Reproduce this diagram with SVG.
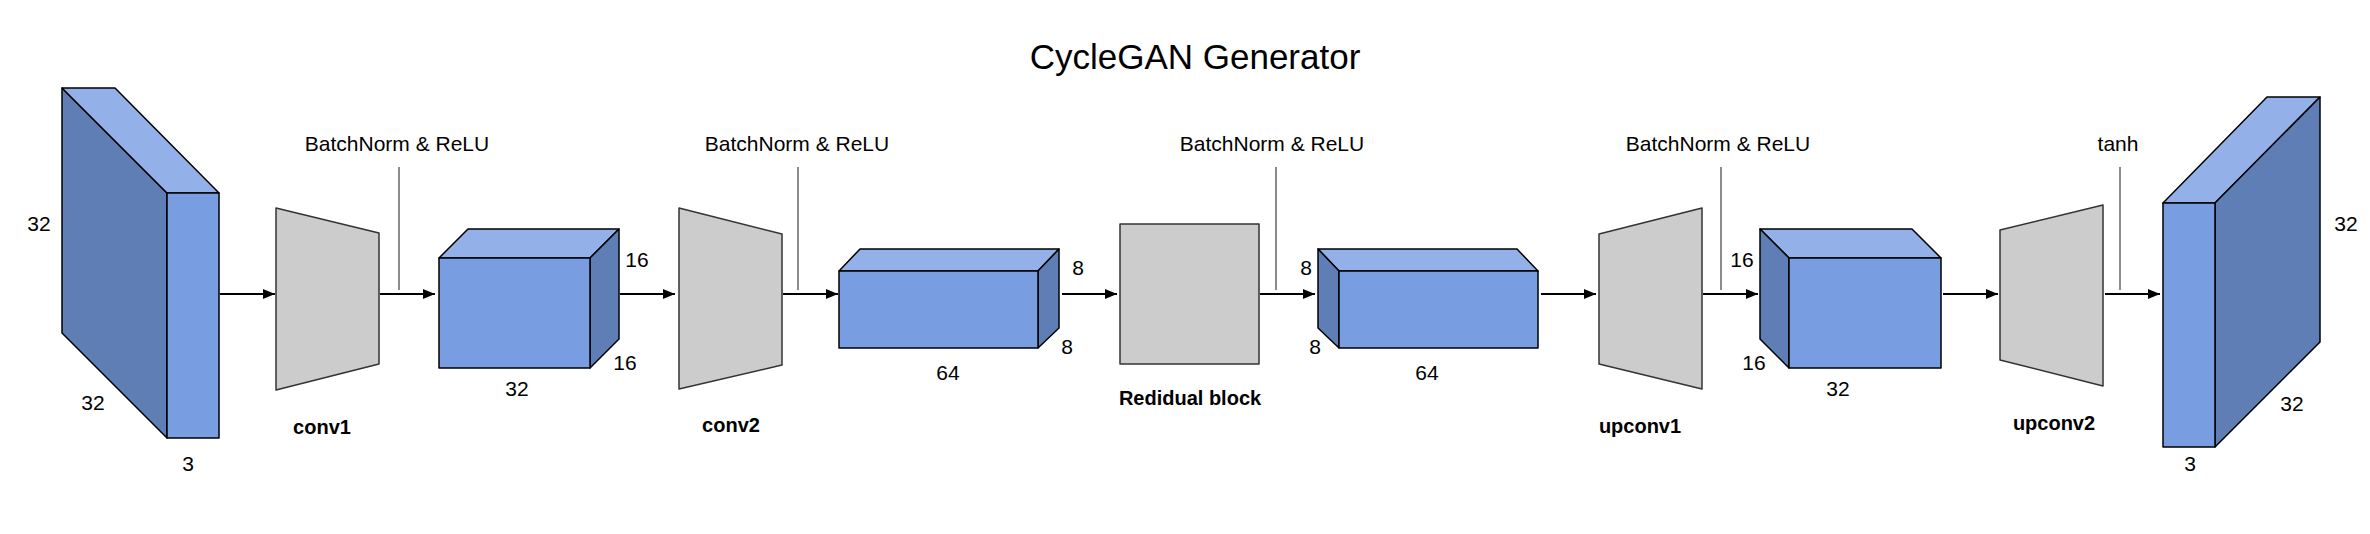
<svg xmlns="http://www.w3.org/2000/svg" width="2370" height="534" viewBox="0 0 2370 534">
<style>
text{font-family:"Liberation Sans",Arial,sans-serif;fill:#000}
.t{font-size:21px;text-anchor:middle;dominant-baseline:central}
.b{font-size:20px;font-weight:bold;text-anchor:middle;dominant-baseline:central}
.bn{font-size:21px;text-anchor:middle}
.front{fill:#789DE1;stroke:#000;stroke-width:1.5;stroke-linejoin:round}
.top{fill:#93B1E8;stroke:#000;stroke-width:1.5;stroke-linejoin:round}
.side{fill:#607EB6;stroke:#000;stroke-width:1.5;stroke-linejoin:round}
.op{fill:#CCCCCC;stroke:#333;stroke-width:1.5;stroke-linejoin:round}
.edge{stroke:#000;stroke-width:2;fill:none}
.tick{stroke:#666;stroke-width:1.5;fill:none}
</style>
<defs>
<marker id="ah" markerWidth="12" markerHeight="10" refX="12" refY="5" orient="auto" markerUnits="userSpaceOnUse">
<path d="M0,0 L12,5 L0,10 Z" fill="#000"/>
</marker>
</defs>
<rect width="2370" height="534" fill="#fff"/>
<text x="1195" y="69" style="font-size:35px;text-anchor:middle">CycleGAN Generator</text>

<g id="input">
<polygon class="side" points="62,88 167,193 167,438 62,333"/>
<polygon class="top" points="62,88 115,88 219,193 167,193"/>
<rect class="front" x="167" y="193" width="52" height="245"/>
<text class="t" x="39" y="223">32</text>
<text class="t" x="93" y="402">32</text>
<text class="t" x="188" y="463">3</text>
</g>

<g id="conv1">
<polygon class="op" points="276,208 379,233 379,364 276,390"/>
<text class="b" x="322" y="427">conv1</text>
</g>

<g id="feat1">
<polygon class="top" points="439,258 468,229 619,229 590,258"/>
<polygon class="side" points="590,258 619,229 619,339 590,368"/>
<rect class="front" x="439" y="258" width="151" height="110"/>
<text class="t" x="637" y="259">16</text>
<text class="t" x="625" y="362">16</text>
<text class="t" x="517" y="388">32</text>
</g>

<g id="conv2">
<polygon class="op" points="679,208 782,234 782,365 679,389"/>
<text class="b" x="731" y="425">conv2</text>
</g>

<g id="feat2">
<polygon class="top" points="839,271 860,249 1059,249 1038,271"/>
<polygon class="side" points="1038,271 1059,249 1059,328 1038,348"/>
<rect class="front" x="839" y="271" width="199" height="77"/>
<text class="t" x="1078" y="267">8</text>
<text class="t" x="1067" y="346">8</text>
<text class="t" x="948" y="372">64</text>
</g>

<g id="residual">
<rect class="op" x="1120" y="224" width="139" height="140"/>
<text class="b" x="1190" y="398">Redidual block</text>
</g>

<g id="feat3">
<polygon class="top" points="1318,249 1517,249 1538,271 1339,271"/>
<polygon class="side" points="1318,249 1339,271 1339,348 1318,328"/>
<rect class="front" x="1339" y="271" width="199" height="77"/>
<text class="t" x="1306" y="267">8</text>
<text class="t" x="1315" y="346">8</text>
<text class="t" x="1427" y="372">64</text>
</g>

<g id="upconv1">
<polygon class="op" points="1599,234 1702,208 1702,389 1599,364"/>
<text class="b" x="1640" y="426">upconv1</text>
</g>

<g id="feat4">
<polygon class="top" points="1760,229 1912,229 1941,258 1789,258"/>
<polygon class="side" points="1760,229 1789,258 1789,368 1760,339"/>
<rect class="front" x="1789" y="258" width="152" height="110"/>
<text class="t" x="1742" y="259">16</text>
<text class="t" x="1754" y="362">16</text>
<text class="t" x="1838" y="388">32</text>
</g>

<g id="upconv2">
<polygon class="op" points="2000,230 2103,205 2103,386 2000,360"/>
<text class="b" x="2054" y="423">upconv2</text>
</g>

<g id="output">
<polygon class="top" points="2163,203 2267,97 2320,97 2215,203"/>
<polygon class="side" points="2215,203 2320,97 2320,342 2215,447"/>
<rect class="front" x="2163" y="203" width="52" height="244"/>
<text class="t" x="2346" y="223">32</text>
<text class="t" x="2292" y="403">32</text>
<text class="t" x="2190" y="463">3</text>
</g>

<g id="activations">
<text class="bn" x="397" y="151">BatchNorm &amp; ReLU</text>
<line class="tick" x1="399" y1="167" x2="399" y2="290"/>
<text class="bn" x="797" y="151">BatchNorm &amp; ReLU</text>
<line class="tick" x1="798" y1="167" x2="798" y2="290"/>
<text class="bn" x="1272" y="151">BatchNorm &amp; ReLU</text>
<line class="tick" x1="1276" y1="167" x2="1276" y2="290"/>
<text class="bn" x="1718" y="151">BatchNorm &amp; ReLU</text>
<line class="tick" x1="1721" y1="167" x2="1721" y2="290"/>
<text class="bn" x="2118" y="151">tanh</text>
<line class="tick" x1="2120" y1="167" x2="2120" y2="290"/>
</g>

<g id="connectors">
<line class="edge" x1="220" y1="294" x2="275" y2="294" marker-end="url(#ah)"/>
<line class="edge" x1="380" y1="294" x2="435" y2="294" marker-end="url(#ah)"/>
<line class="edge" x1="620" y1="294" x2="675" y2="294" marker-end="url(#ah)"/>
<line class="edge" x1="783" y1="294" x2="838" y2="294" marker-end="url(#ah)"/>
<line class="edge" x1="1062" y1="294" x2="1117" y2="294" marker-end="url(#ah)"/>
<line class="edge" x1="1260" y1="294" x2="1315" y2="294" marker-end="url(#ah)"/>
<line class="edge" x1="1541" y1="294" x2="1596" y2="294" marker-end="url(#ah)"/>
<line class="edge" x1="1703" y1="294" x2="1758" y2="294" marker-end="url(#ah)"/>
<line class="edge" x1="1943" y1="294" x2="1998" y2="294" marker-end="url(#ah)"/>
<line class="edge" x1="2105" y1="294" x2="2160" y2="294" marker-end="url(#ah)"/>
</g>
</svg>
